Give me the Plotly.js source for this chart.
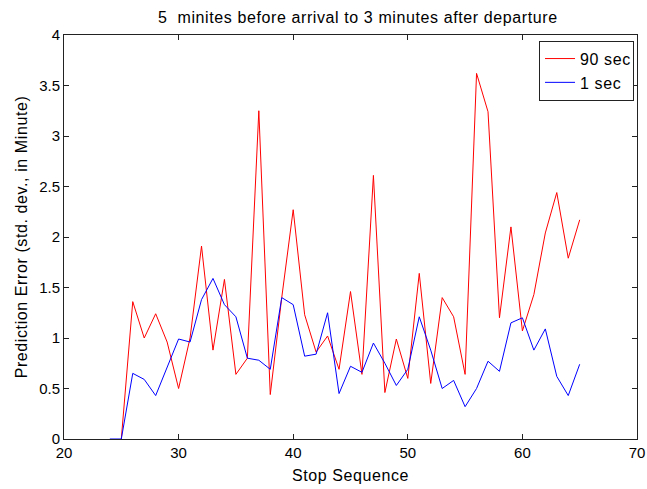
<!DOCTYPE html>
<html>
<head>
<meta charset="utf-8">
<script src="https://cdn.plot.ly/plotly-3.0.1.min.js"></script>
<style>
html,body{margin:0;padding:0;background:#fff;}
#chart{width:647px;height:489px;}
#chart .gtitle, #chart .xtitle, #chart .ytitle, #chart .legendtext { letter-spacing: 0.6px; }
</style>
</head>
<body>
<div id="chart"></div>
<script>
const stops90 = [25,26,27,28,29,30,31,32,33,34,35,36,37,38,39,40,41,42,43,44,45,46,47,48,49,50,51,52,53,54,55,56,57,58,59,60,61,62,63,64,65];
const err90 = [0,1.36,1.0,1.24,0.96,0.5,1.0,1.91,0.88,1.58,0.64,0.80,3.25,0.44,1.4,2.27,1.23,0.86,1.02,0.69,1.46,0.64,2.61,0.46,0.99,0.60,1.64,0.55,1.40,1.21,0.64,3.62,3.24,1.20,2.10,1.07,1.43,2.04,2.44,1.79,2.17];
const stops1 = [24,25,26,27,28,29,30,31,32,33,34,35,36,37,38,39,40,41,42,43,44,45,46,47,48,49,50,51,52,53,54,55,56,57,58,59,60,61,62,63,64,65];
const err1 = [0,0,0.65,0.59,0.43,0.71,0.99,0.96,1.38,1.59,1.33,1.21,0.80,0.78,0.69,1.40,1.33,0.82,0.84,1.25,0.45,0.72,0.66,0.95,0.75,0.53,0.69,1.21,0.88,0.50,0.58,0.32,0.50,0.77,0.67,1.15,1.20,0.88,1.09,0.62,0.43,0.74];
const seriesNames = ["90 sec", "1 sec"];
const xTicks = [20,30,40,50,60,70];
const yTicks = [0,0.5,1,1.5,2,2.5,3,3.5,4];

const fam = "Liberation Sans, Arial, Helvetica, sans-serif";
const tickFont = {family: fam, size: 15, color: "#000"};
const labelFont = {family: fam, size: 16, color: "#000"};
const traces = [
  {x: stops90, y: err90, name: seriesNames[0], mode: "lines", line: {color: "#ff0000", width: 1}},
  {x: stops1, y: err1, name: seriesNames[1], mode: "lines", line: {color: "#0000ff", width: 1}}
];
const axisCommon = {
  showgrid: false, zeroline: false, showline: true, linecolor: "#222", linewidth: 1,
  mirror: "ticks", ticks: "inside", ticklen: 5, tickcolor: "#222", tickwidth: 1,
  tickfont: tickFont
};
const layout = {
  width: 647, height: 489,
  margin: {l: 64, r: 10, t: 35, b: 50},
  paper_bgcolor: "#fff", plot_bgcolor: "#fff",
  font: labelFont,
  title: {text: "5 \u00a0minites before arrival to 3 minutes after departure", font: labelFont,
    x: 0.553, xanchor: "center", y: 0.9636, yanchor: "middle"},
  xaxis: Object.assign({}, axisCommon, {range: [20, 70], tickvals: xTicks, ticktext: xTicks.map(String),
    title: {text: "Stop Sequence", font: labelFont, standoff: 9}}),
  yaxis: Object.assign({}, axisCommon, {range: [0, 4], tickvals: yTicks, ticktext: yTicks.map(String),
    title: {text: "Prediction Error (std. dev., in Minute)", font: labelFont, standoff: 7}}),
  showlegend: true,
  legend: {x: 0.9948, xanchor: "right", y: 0.986, yanchor: "top", bordercolor: "#222", borderwidth: 1,
    bgcolor: "#fff", font: labelFont, tracegroupgap: 0}
};
Plotly.newPlot("chart", traces, layout, {displayModeBar: false, staticPlot: true});
</script>
</body>
</html>
